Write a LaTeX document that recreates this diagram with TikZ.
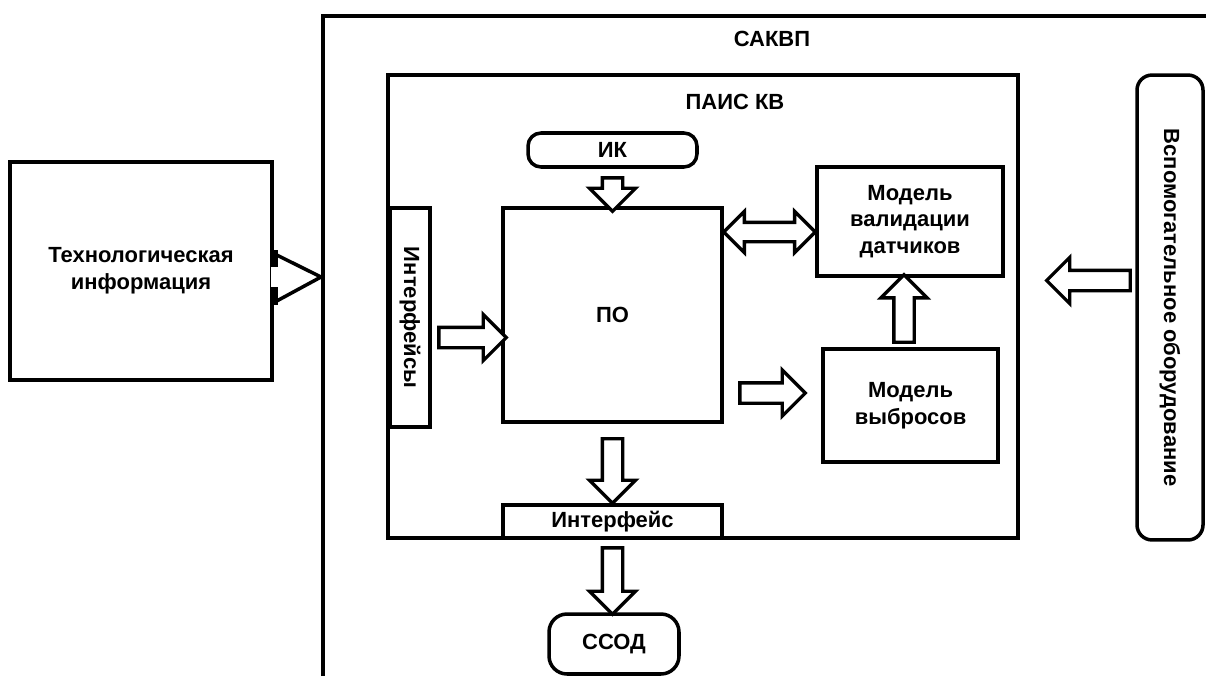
\documentclass[tikz,border=0pt]{standalone}
\usepackage{fontspec}
\setmainfont{Liberation Sans}
\usetikzlibrary{calc,shapes.arrows}

\tikzset{
  box/.style={draw, line width=2pt, align=center, inner sep=0pt,
    font=\fontsize{12.5}{15.2}\selectfont\bfseries},
  rbox/.style={box, rounded corners=0.26cm},
  label/.style={inner sep=0pt, font=\fontsize{12.5}{15.2}\selectfont\bfseries},
  hollow/.style={draw, line width=1.9pt, fill=white, single arrow,
    inner xsep=0pt, inner ysep=0.17cm, minimum width=0pt,
    single arrow head extend=0.26cm, single arrow head indent=0pt},
  hollowboth/.style={double arrow, inner ysep=0.16cm,
    double arrow head extend=0.22cm, double arrow head indent=0pt},
}

% fat hollow arrow between two points
\newcommand{\fatarrow}[3][]{%
  \path let \p1=(#2), \p2=(#3),
    \n1={atan2(\y2-\y1,\x2-\x1)}, \n2={veclen(\x2-\x1,\y2-\y1)} in
    node[hollow, #1, minimum height=\n2, rotate=\n1] at ($(\p1)!0.5!(\p2)$) {};}

\begin{document}
\begin{tikzpicture}[x=0.02cm, y=-0.02cm]
    \useasboundingbox (0,0) rectangle (1206,676);

    % outer system frame
    \draw[line width=2.3pt] (323,676) -- (323,16) -- (1206,16);
    \node[label] (sakvp) at (772,39) {САКВП};

    % inner block
    \node[box, minimum width=12.6cm, minimum height=9.26cm] (pais) at (703,306.5) {};
    \node[label] (paistitle) at (735,102) {ПАИС КВ};

    % left source
    \node[box, minimum width=5.24cm, minimum height=4.36cm] (tech) at (141,271)
        {Технологическая\\информация};
    \coordinate (texit) at ($(tech.east)+(0,6)$);
    \coordinate (tip) at (321,277);
    \fill[white] ($(texit)+(-3,-10)$) rectangle ($(texit)+(3,10)$);
    \draw[line width=3.8pt] ($(texit)+(1,-27)$) -- ($(texit)+(1,-10)$);
    \draw[line width=3.8pt] ($(texit)+(1,10)$) -- ($(texit)+(1,28)$);
    \draw[line width=2pt] ($(texit)+(3,-22)$) -- (tip) -- ($(texit)+(3,24)$);

    % blocks inside
    \node[rbox, minimum width=3.38cm, minimum height=0.68cm] (ik) at (612.5,150) {ИК};
    \node[box, minimum width=4.38cm, minimum height=4.28cm] (po) at (612.5,315) {ПО};
    \node[box, minimum width=4.38cm, minimum height=0.8cm, rotate=-90] (intfs) at (410,317.5)
        {Интерфейсы};
    \node[box, minimum width=3.72cm, minimum height=2.18cm] (val) at (910,221.5)
        {Модель\\валидации\\датчиков};
    \node[box, minimum width=3.5cm, minimum height=2.26cm] (emis) at (910.5,405.5)
        {Модель\\выбросов};
    \node[box, minimum width=4.38cm, minimum height=0.66cm] (intf) at (612.5,521.5) {Интерфейс};
    \node[rbox, rounded corners=0.36cm, minimum width=2.6cm, minimum height=1.2cm] (ssod)
        at (614,644) {ССОД};
    \node[rbox, rounded corners=0.3cm, minimum width=9.3cm, minimum height=1.32cm, rotate=-90]
        (aux) at (1170,307.5) {Вспомогательное оборудование};

    % hollow arrows
    \fatarrow{$(ik.south)+(0,4)$}{po.north}
    \coordinate (a2) at ($(intfs.north)+(2,20)$);
    \fatarrow{a2}{a2 -| po.west}
    \coordinate (a3) at ($(val.west)+(0,10.5)$);
    \fatarrow[hollowboth]{po.east |- a3}{a3}
    \coordinate (a4) at ($(po.east)+(11,78)$);
    \coordinate (b4) at ($(emis.west)+(-21,0)$);
    \fatarrow{a4}{a4 -| b4}
    \coordinate (a5) at ($(val.south)+(-6,2)$);
    \fatarrow{a5 |- emis.north}{a5}
    \fatarrow{$(po.south)+(0,10)$}{$(intf.north)+(0,-5)$}
    \coordinate (a7) at ($(intf.south)+(0,3)$);
    \coordinate (b7) at ($(ssod.north)+(0,-3)$);
    \fatarrow{a7}{a7 |- b7}
    \coordinate (a8) at ($(aux.south)+(0,-27)$);
    \coordinate (b8) at ($(pais.east)+(32,0)$);
    \fatarrow{a8}{a8 -| b8}
\end{tikzpicture}
\end{document}
